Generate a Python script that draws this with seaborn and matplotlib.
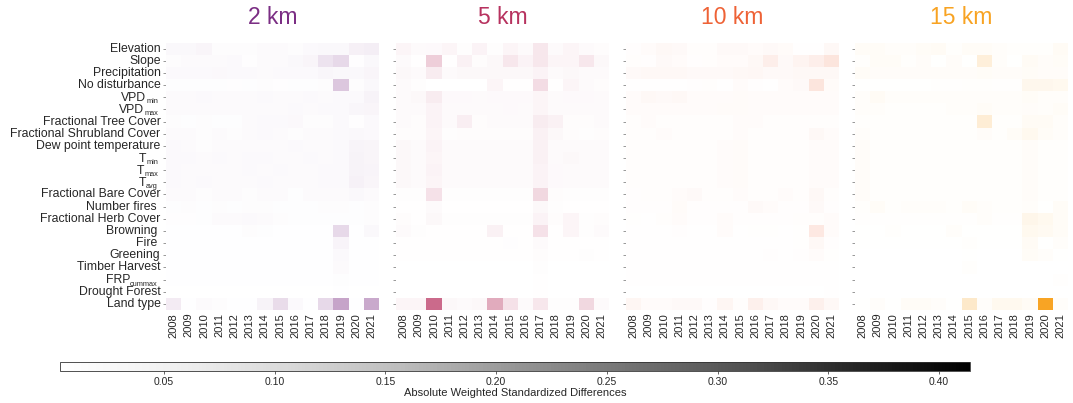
import numpy as np
import pandas as pd
import matplotlib
matplotlib.use("Agg")
import matplotlib.pyplot as plt
from matplotlib.colors import LinearSegmentedColormap, Normalize
from matplotlib.cm import ScalarMappable
import seaborn as sns

sns.set_style("white")
plt.rcParams["font.family"] = ["Liberation Sans", "DejaVu Sans"]

years = [str(y) for y in range(2008, 2022)]

# (label, subscript) for every covariate row
covariates = [
    ("Elevation", ""), ("Slope", ""), ("Precipitation", ""), ("No disturbance", ""),
    ("VPD", "min"), ("VPD", "max"),
    ("Fractional Tree Cover", ""), ("Fractional Shrubland Cover", ""),
    ("Dew point temperature", ""),
    ("T", "min"), ("T", "max"), ("T", "avg"),
    ("Fractional Bare Cover", ""), ("Number fires ", ""), ("Fractional Herb Cover", ""),
    ("Browning ", ""), ("Fire ", ""), ("Greening", ""), ("Timber Harvest", ""),
    ("FRP", "cummax"), ("Drought Forest", ""), ("Land type", ""),
]
row_names = [m + (f"_{s}" if s else "") for m, s in covariates]

buffers = ["2 km", "5 km", "10 km", "15 km"]
buffer_colors = ["#7b2e84", "#b7325f", "#ee6236", "#f8a322"]

# absolute weighted standardized differences, rows = covariates, cols = 2008..2021
smd_2km = [
    [0.015, 0.015, 0.020, 0.008, 0.008, 0.008, 0.010, 0.010, 0.008, 0.012, 0.015, 0.015, 0.030, 0.035],
    [0.008, 0.010, 0.010, 0.010, 0.012, 0.004, 0.010, 0.010, 0.015, 0.020, 0.055, 0.075, 0.004, 0.015],
    [0.012, 0.012, 0.012, 0.014, 0.012, 0.012, 0.010, 0.012, 0.012, 0.012, 0.018, 0.015, 0.015, 0.020],
    [0.005, 0.005, 0.006, 0.005, 0.004, 0.005, 0.008, 0.004, 0.005, 0.006, 0.008, 0.110, 0.008, 0.015],
    [0.010, 0.010, 0.012, 0.010, 0.010, 0.010, 0.012, 0.010, 0.010, 0.012, 0.010, 0.012, 0.012, 0.025],
    [0.010, 0.010, 0.010, 0.010, 0.010, 0.010, 0.010, 0.010, 0.012, 0.010, 0.012, 0.012, 0.018, 0.020],
    [0.008, 0.006, 0.008, 0.006, 0.005, 0.010, 0.012, 0.012, 0.014, 0.008, 0.008, 0.012, 0.004, 0.012],
    [0.010, 0.010, 0.008, 0.010, 0.008, 0.010, 0.012, 0.010, 0.008, 0.010, 0.010, 0.012, 0.015, 0.012],
    [0.012, 0.010, 0.008, 0.010, 0.010, 0.010, 0.010, 0.010, 0.012, 0.010, 0.010, 0.012, 0.022, 0.020],
    [0.012, 0.012, 0.010, 0.012, 0.010, 0.012, 0.012, 0.010, 0.010, 0.012, 0.010, 0.012, 0.025, 0.020],
    [0.012, 0.010, 0.010, 0.010, 0.010, 0.012, 0.010, 0.012, 0.010, 0.010, 0.012, 0.012, 0.025, 0.022],
    [0.012, 0.010, 0.012, 0.010, 0.010, 0.010, 0.012, 0.010, 0.010, 0.010, 0.012, 0.012, 0.028, 0.020],
    [0.010, 0.010, 0.008, 0.010, 0.010, 0.008, 0.010, 0.010, 0.006, 0.010, 0.010, 0.010, 0.015, 0.010],
    [0.006, 0.008, 0.006, 0.008, 0.006, 0.008, 0.008, 0.006, 0.006, 0.006, 0.008, 0.008, 0.006, 0.008],
    [0.004, 0.004, 0.006, 0.010, 0.010, 0.012, 0.010, 0.008, 0.006, 0.005, 0.006, 0.006, 0.005, 0.008],
    [0.003, 0.003, 0.003, 0.003, 0.003, 0.008, 0.006, 0.003, 0.003, 0.003, 0.003, 0.075, 0.003, 0.015],
    [0.002, 0.002, 0.002, 0.002, 0.002, 0.003, 0.002, 0.002, 0.002, 0.002, 0.003, 0.022, 0.002, 0.003],
    [0.002, 0.002, 0.002, 0.002, 0.002, 0.002, 0.002, 0.002, 0.002, 0.002, 0.002, 0.012, 0.002, 0.002],
    [0.002, 0.002, 0.002, 0.002, 0.002, 0.002, 0.002, 0.002, 0.002, 0.002, 0.002, 0.010, 0.002, 0.002],
    [0.002, 0.002, 0.002, 0.002, 0.002, 0.002, 0.002, 0.002, 0.002, 0.002, 0.002, 0.006, 0.002, 0.002],
    [0.001, 0.001, 0.001, 0.001, 0.001, 0.001, 0.001, 0.001, 0.001, 0.001, 0.001, 0.002, 0.001, 0.001],
    [0.040, 0.003, 0.010, 0.008, 0.003, 0.003, 0.025, 0.070, 0.012, 0.003, 0.075, 0.180, 0.003, 0.170],
]

smd_5km = [
    [0.020, 0.010, 0.012, 0.020, 0.005, 0.025, 0.005, 0.020, 0.010, 0.050, 0.010, 0.020, 0.010, 0.008],
    [0.010, 0.002, 0.100, 0.002, 0.030, 0.008, 0.015, 0.050, 0.025, 0.050, 0.020, 0.020, 0.050, 0.015],
    [0.015, 0.010, 0.040, 0.010, 0.015, 0.015, 0.015, 0.015, 0.015, 0.025, 0.010, 0.015, 0.010, 0.010],
    [0.010, 0.005, 0.001, 0.001, 0.001, 0.001, 0.020, 0.002, 0.002, 0.070, 0.002, 0.020, 0.010, 0.008],
    [0.010, 0.015, 0.040, 0.012, 0.012, 0.010, 0.012, 0.012, 0.012, 0.020, 0.010, 0.012, 0.012, 0.010],
    [0.010, 0.010, 0.025, 0.010, 0.010, 0.010, 0.010, 0.012, 0.010, 0.020, 0.010, 0.010, 0.010, 0.010],
    [0.010, 0.008, 0.025, 0.010, 0.035, 0.008, 0.010, 0.010, 0.010, 0.040, 0.030, 0.008, 0.008, 0.010],
    [0.008, 0.008, 0.020, 0.006, 0.008, 0.008, 0.008, 0.008, 0.008, 0.030, 0.015, 0.008, 0.006, 0.008],
    [0.015, 0.010, 0.025, 0.010, 0.010, 0.010, 0.010, 0.010, 0.010, 0.030, 0.010, 0.010, 0.010, 0.010],
    [0.015, 0.010, 0.020, 0.010, 0.010, 0.010, 0.010, 0.010, 0.010, 0.030, 0.010, 0.015, 0.010, 0.010],
    [0.015, 0.010, 0.025, 0.010, 0.010, 0.010, 0.010, 0.010, 0.010, 0.025, 0.012, 0.010, 0.010, 0.010],
    [0.015, 0.010, 0.020, 0.010, 0.010, 0.010, 0.010, 0.010, 0.010, 0.025, 0.012, 0.010, 0.010, 0.010],
    [0.005, 0.005, 0.060, 0.005, 0.005, 0.005, 0.005, 0.005, 0.005, 0.080, 0.008, 0.005, 0.005, 0.005],
    [0.003, 0.003, 0.010, 0.003, 0.003, 0.003, 0.003, 0.003, 0.003, 0.015, 0.005, 0.003, 0.003, 0.003],
    [0.008, 0.003, 0.015, 0.005, 0.005, 0.005, 0.005, 0.005, 0.005, 0.025, 0.008, 0.020, 0.006, 0.008],
    [0.010, 0.005, 0.003, 0.003, 0.003, 0.003, 0.030, 0.003, 0.003, 0.060, 0.003, 0.020, 0.006, 0.010],
    [0.002, 0.002, 0.002, 0.002, 0.002, 0.002, 0.002, 0.004, 0.002, 0.010, 0.002, 0.002, 0.002, 0.002],
    [0.002, 0.002, 0.002, 0.002, 0.002, 0.002, 0.002, 0.002, 0.002, 0.008, 0.002, 0.002, 0.006, 0.002],
    [0.001, 0.001, 0.001, 0.001, 0.001, 0.001, 0.001, 0.001, 0.001, 0.005, 0.001, 0.001, 0.001, 0.001],
    [0.001, 0.001, 0.001, 0.001, 0.001, 0.001, 0.001, 0.001, 0.001, 0.003, 0.001, 0.001, 0.001, 0.001],
    [0.001, 0.001, 0.001, 0.001, 0.001, 0.001, 0.001, 0.001, 0.001, 0.002, 0.001, 0.001, 0.001, 0.001],
    [0.020, 0.020, 0.300, 0.015, 0.010, 0.015, 0.170, 0.060, 0.010, 0.050, 0.005, 0.005, 0.080, 0.010],
]

smd_10km = [
    [0.005, 0.010, 0.020, 0.015, 0.008, 0.008, 0.015, 0.015, 0.010, 0.015, 0.012, 0.002, 0.002, 0.020],
    [0.008, 0.005, 0.015, 0.010, 0.005, 0.008, 0.010, 0.010, 0.020, 0.045, 0.015, 0.030, 0.045, 0.070],
    [0.015, 0.020, 0.020, 0.018, 0.015, 0.015, 0.015, 0.018, 0.022, 0.015, 0.015, 0.018, 0.018, 0.020],
    [0.002, 0.002, 0.002, 0.002, 0.005, 0.008, 0.002, 0.010, 0.005, 0.002, 0.010, 0.015, 0.070, 0.012],
    [0.010, 0.020, 0.015, 0.020, 0.010, 0.010, 0.010, 0.012, 0.010, 0.010, 0.010, 0.010, 0.010, 0.010],
    [0.010, 0.010, 0.010, 0.010, 0.010, 0.010, 0.012, 0.012, 0.010, 0.010, 0.010, 0.010, 0.010, 0.010],
    [0.008, 0.010, 0.008, 0.008, 0.008, 0.008, 0.008, 0.010, 0.010, 0.008, 0.008, 0.008, 0.008, 0.008],
    [0.008, 0.008, 0.010, 0.008, 0.008, 0.008, 0.008, 0.010, 0.008, 0.008, 0.008, 0.008, 0.020, 0.010],
    [0.008, 0.008, 0.008, 0.008, 0.008, 0.008, 0.010, 0.012, 0.008, 0.008, 0.008, 0.008, 0.010, 0.010],
    [0.008, 0.008, 0.008, 0.008, 0.008, 0.008, 0.010, 0.012, 0.008, 0.008, 0.008, 0.008, 0.010, 0.010],
    [0.008, 0.008, 0.008, 0.008, 0.008, 0.008, 0.010, 0.012, 0.008, 0.008, 0.008, 0.008, 0.010, 0.010],
    [0.008, 0.008, 0.008, 0.008, 0.008, 0.008, 0.010, 0.012, 0.008, 0.008, 0.008, 0.008, 0.010, 0.010],
    [0.005, 0.008, 0.008, 0.010, 0.015, 0.008, 0.008, 0.010, 0.008, 0.008, 0.010, 0.008, 0.020, 0.008],
    [0.005, 0.005, 0.005, 0.012, 0.005, 0.005, 0.005, 0.005, 0.015, 0.010, 0.005, 0.005, 0.015, 0.005],
    [0.004, 0.002, 0.008, 0.010, 0.005, 0.005, 0.010, 0.005, 0.005, 0.005, 0.005, 0.008, 0.008, 0.010],
    [0.002, 0.002, 0.002, 0.005, 0.002, 0.002, 0.010, 0.002, 0.004, 0.004, 0.002, 0.004, 0.060, 0.010],
    [0.002, 0.002, 0.002, 0.002, 0.002, 0.002, 0.002, 0.002, 0.002, 0.002, 0.002, 0.004, 0.020, 0.006],
    [0.002, 0.002, 0.002, 0.002, 0.002, 0.002, 0.002, 0.002, 0.002, 0.006, 0.002, 0.006, 0.010, 0.004],
    [0.002, 0.002, 0.002, 0.002, 0.002, 0.002, 0.002, 0.002, 0.002, 0.002, 0.002, 0.002, 0.003, 0.003],
    [0.002, 0.002, 0.002, 0.002, 0.002, 0.002, 0.002, 0.002, 0.002, 0.002, 0.002, 0.002, 0.002, 0.003],
    [0.001, 0.001, 0.001, 0.001, 0.001, 0.001, 0.001, 0.001, 0.001, 0.001, 0.001, 0.001, 0.001, 0.002],
    [0.025, 0.010, 0.010, 0.015, 0.015, 0.005, 0.025, 0.008, 0.040, 0.020, 0.010, 0.010, 0.040, 0.020],
]

smd_15km = [
    [0.015, 0.015, 0.010, 0.010, 0.015, 0.020, 0.005, 0.015, 0.015, 0.010, 0.008, 0.008, 0.008, 0.020],
    [0.005, 0.015, 0.015, 0.008, 0.012, 0.003, 0.012, 0.002, 0.070, 0.010, 0.002, 0.020, 0.012, 0.015],
    [0.015, 0.012, 0.012, 0.012, 0.012, 0.012, 0.012, 0.012, 0.015, 0.012, 0.012, 0.015, 0.012, 0.012],
    [0.003, 0.002, 0.003, 0.002, 0.002, 0.004, 0.004, 0.006, 0.008, 0.004, 0.004, 0.035, 0.035, 0.030],
    [0.010, 0.020, 0.010, 0.010, 0.010, 0.010, 0.010, 0.010, 0.010, 0.010, 0.010, 0.015, 0.010, 0.010],
    [0.010, 0.010, 0.008, 0.008, 0.008, 0.008, 0.010, 0.010, 0.015, 0.010, 0.010, 0.012, 0.010, 0.015],
    [0.008, 0.008, 0.008, 0.008, 0.008, 0.008, 0.008, 0.008, 0.080, 0.008, 0.008, 0.020, 0.020, 0.010],
    [0.010, 0.008, 0.008, 0.008, 0.008, 0.008, 0.008, 0.008, 0.012, 0.008, 0.015, 0.030, 0.015, 0.010],
    [0.012, 0.008, 0.008, 0.008, 0.008, 0.008, 0.008, 0.008, 0.008, 0.008, 0.008, 0.012, 0.008, 0.008],
    [0.012, 0.008, 0.008, 0.008, 0.008, 0.008, 0.008, 0.008, 0.008, 0.008, 0.008, 0.012, 0.008, 0.008],
    [0.012, 0.008, 0.008, 0.008, 0.008, 0.008, 0.008, 0.008, 0.008, 0.008, 0.008, 0.012, 0.008, 0.008],
    [0.012, 0.008, 0.008, 0.008, 0.008, 0.008, 0.008, 0.008, 0.008, 0.008, 0.008, 0.012, 0.008, 0.008],
    [0.012, 0.006, 0.006, 0.006, 0.006, 0.006, 0.006, 0.006, 0.006, 0.006, 0.006, 0.012, 0.006, 0.006],
    [0.005, 0.015, 0.005, 0.010, 0.010, 0.010, 0.005, 0.015, 0.010, 0.005, 0.005, 0.010, 0.002, 0.015],
    [0.004, 0.004, 0.004, 0.004, 0.004, 0.004, 0.004, 0.004, 0.010, 0.004, 0.004, 0.040, 0.030, 0.015],
    [0.002, 0.002, 0.005, 0.002, 0.002, 0.002, 0.010, 0.002, 0.002, 0.002, 0.002, 0.030, 0.025, 0.015],
    [0.002, 0.002, 0.002, 0.002, 0.002, 0.002, 0.002, 0.008, 0.002, 0.002, 0.002, 0.020, 0.002, 0.010],
    [0.001, 0.001, 0.001, 0.001, 0.001, 0.001, 0.001, 0.002, 0.001, 0.001, 0.001, 0.015, 0.010, 0.002],
    [0.001, 0.001, 0.001, 0.001, 0.001, 0.001, 0.001, 0.005, 0.001, 0.001, 0.001, 0.001, 0.001, 0.001],
    [0.001, 0.001, 0.001, 0.001, 0.001, 0.001, 0.001, 0.001, 0.001, 0.001, 0.001, 0.001, 0.001, 0.004],
    [0.001, 0.001, 0.001, 0.001, 0.001, 0.001, 0.001, 0.001, 0.001, 0.001, 0.001, 0.001, 0.001, 0.001],
    [0.003, 0.010, 0.003, 0.015, 0.015, 0.010, 0.003, 0.100, 0.010, 0.030, 0.030, 0.020, 0.410, 0.010],
]

tables = [smd_2km, smd_5km, smd_10km, smd_15km]

VMIN, VMAX = 0.003, 0.414

W, H = 1073, 403
fig = plt.figure(figsize=(W / 100, H / 100), dpi=100)
renderer = fig.canvas.get_renderer()

panel_left = [166, 396, 626, 855]
panel_w = 213
panel_top, panel_bottom = 42.5, 310
LABEL_SIZE = 8.8
SUB_SIZE = 5.3
LABEL_GAP = 8  # pixels between label end and the heatmap edge

for i, (name, col, tab) in enumerate(zip(buffers, buffer_colors, tables)):
    ax = fig.add_axes([panel_left[i] / W, (H - panel_bottom) / H,
                       panel_w / W, (panel_bottom - panel_top) / H])
    df = pd.DataFrame(tab, index=row_names, columns=years)
    cmap = LinearSegmentedColormap.from_list(f"w_{i}", ["#ffffff", col])
    sns.heatmap(df, ax=ax, cmap=cmap, vmin=0, vmax=VMAX, cbar=False,
                xticklabels=True, yticklabels=True)
    ax.tick_params(axis="y", length=2, width=0.6, color="#888888", pad=2,
                   labelsize=LABEL_SIZE, left=True)
    ax.tick_params(axis="x", length=0, pad=2, labelsize=8)
    plt.setp(ax.get_xticklabels(), rotation=90)
    ax.set_xlabel("")
    ax.set_ylabel("")
    if i > 0:
        ax.set_yticklabels([])
    else:
        # plain labels as tick labels, subscripted ones drawn as two texts
        ax.set_yticklabels([m if not s else "" for m, s in covariates], rotation=0)
        for r, (main, sub) in enumerate(covariates):
            if not sub:
                continue
            yc = r + 0.5
            st = ax.annotate(sub, xy=(0, yc), xycoords=("axes fraction", "data"),
                             xytext=(-LABEL_GAP, -6), textcoords="offset pixels",
                             ha="right", va="baseline", fontsize=SUB_SIZE)
            w = st.get_window_extent(renderer).width
            ax.annotate(main, xy=(0, yc), xycoords=("axes fraction", "data"),
                        xytext=(-LABEL_GAP - w, -3.5), textcoords="offset pixels",
                        ha="right", va="baseline", fontsize=LABEL_SIZE)
    fig.text((panel_left[i] + panel_w / 2) / W, 1 - 18 / H, name,
             ha="center", va="center", fontsize=16.5, color=col)

# shared grey scale bar
cax = fig.add_axes([60 / W, (H - 371) / H, 910 / W, 9 / H])
sm = ScalarMappable(norm=Normalize(VMIN, VMAX), cmap="Greys")
cb = fig.colorbar(sm, cax=cax, orientation="horizontal",
                  ticks=[0.05, 0.10, 0.15, 0.20, 0.25, 0.30, 0.35, 0.40])
cb.outline.set_linewidth(0.6)
cb.outline.set_edgecolor("#333333")
cax.tick_params(length=2, width=0.5, pad=2)
cax.set_xticklabels([f"{t:.2f}" for t in cb.get_ticks()],
                    fontsize=7.5, family=["Liberation Sans Narrow", "Liberation Sans"])
cb.set_label("Absolute Weighted Standardized Differences", fontsize=8,
             labelpad=1, family=["Liberation Sans Narrow", "Liberation Sans"])

fig.savefig("out.png", dpi=100)
